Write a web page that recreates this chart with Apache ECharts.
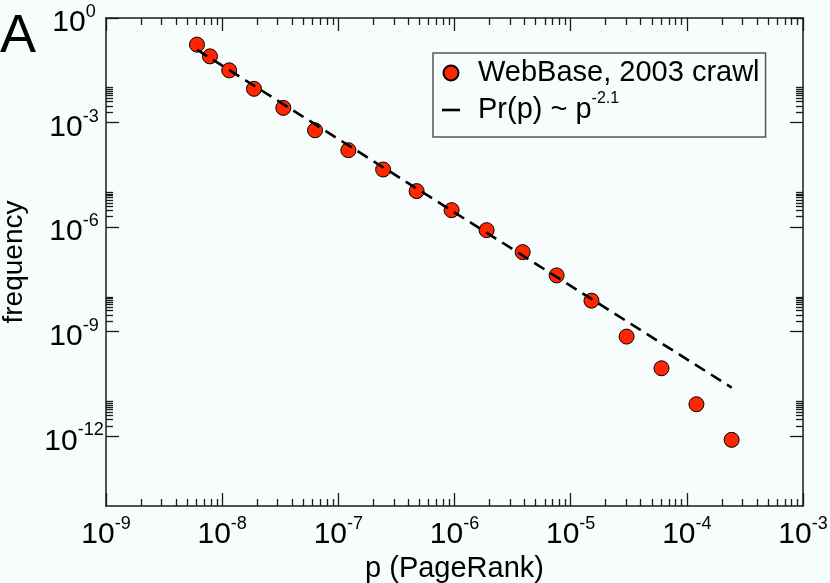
<!DOCTYPE html>
<html>
<head>
<meta charset="utf-8">
<title>PageRank distribution</title>
<script src="https://cdn.jsdelivr.net/npm/echarts@6/dist/echarts.min.js"></script>
<style>
  html, body { margin: 0; padding: 0; background: #f7fcfd; }
  #chart { width: 830px; height: 583px; }
</style>
</head>
<body>
<div id="chart"></div>
<script>
// data (log-binned PageRank histogram)
var pageRank = [
  6.07e-9, 7.85e-9, 1.15e-8, 1.88e-8, 3.36e-8, 6.3e-8,
  1.22e-7, 2.43e-7, 4.72e-7, 9.44e-7, 1.89e-6, 3.86e-6,
  7.57e-6, 1.51e-5, 3.03e-5, 6.05e-5, 1.21e-4, 2.43e-4
];
var frequency = [
  0.172, 0.0794, 0.0315, 9.3e-3, 2.64e-3, 6.0e-4,
  1.61e-4, 4.5e-5, 1.08e-5, 3.07e-6, 8.2e-7, 1.92e-7,
  4.13e-8, 7.78e-9, 7.24e-10, 8.94e-11, 8.3e-12, 7.9e-13
];
// ends of the dashed power-law guide
var fitP = [6.07e-9, 2.43e-4];
var fitFreq = [0.1235, 2.5e-11];

var xTicks = [1e-9, 1e-8, 1e-7, 1e-6, 1e-5, 1e-4, 1e-3];
var yTicks = [1, 1e-3, 1e-6, 1e-9, 1e-12];
var xMinorDecades = [1e-9, 1e-8, 1e-7, 1e-6, 1e-5, 1e-4];
var yMinorDecades = [1e-3, 1e-6, 1e-9, 1e-12];

var dataName = 'WebBase, 2003 crawl';
var fitName = 'Pr(p) ~ p^-2.1';

var font = 'Liberation Sans';
var axisColor = '#1a1a1a';

function minorTicks(decades, steps) {
  var out = [];
  decades.forEach(function (d) {
    steps.forEach(function (m) { out.push(m * d); });
  });
  return out;
}
var xMinor = minorTicks(xMinorDecades, [2, 3, 4, 5, 6, 7, 8, 9]);
var yMinor = minorTicks(yMinorDecades, [2, 3, 4, 5, 6, 7, 8, 9, 10]);

function powLabel(v) {
  var e = Math.round(Math.log10(v));
  return '{b|10}{s|' + e + '}';
}

var tickRich = {
  b: { fontSize: 30, lineHeight: 40, fontFamily: font, color: '#000' },
  s: { fontSize: 18, lineHeight: 18, fontFamily: font, color: '#000', verticalAlign: 'top' }
};

function frameAxis(pos, min, max, ticks, len, withLine) {
  return {
    type: 'log',
    logBase: 10,
    min: min,
    max: max,
    position: pos,
    axisLine: { show: withLine, onZero: false, lineStyle: { color: axisColor, width: 1.5 } },
    axisTick: { show: true, inside: true, length: len, customValues: ticks,
                lineStyle: { color: axisColor, width: 1.3 } },
    axisLabel: { show: false },
    splitLine: { show: false },
    axisPointer: { show: false },
    silent: true
  };
}

var xMain = frameAxis('bottom', 1e-9, 1e-3, xTicks, 13, true);
xMain.axisLabel = {
  show: true, customValues: xTicks, margin: 9,
  fontSize: 30, fontFamily: font, color: '#000',
  formatter: powLabel, rich: tickRich
};
xMain.name = 'p (PageRank)';
xMain.nameLocation = 'middle';
xMain.nameGap = 43;
xMain.nameTextStyle = { fontSize: 29, fontFamily: font, color: '#000' };

var yMain = frameAxis('left', 1e-14, 1, yTicks, 13, true);
yMain.axisLabel = {
  show: true, customValues: yTicks, margin: 32, align: 'center',
  fontSize: 30, fontFamily: font, color: '#000',
  padding: [10, 0, 0, 0],
  formatter: powLabel, rich: tickRich
};
yMain.name = 'frequency';
yMain.nameLocation = 'middle';
yMain.nameGap = 78;
yMain.nameTextStyle = { fontSize: 28, fontFamily: font, color: '#000' };

var option = {
  backgroundColor: '#f7fcfd',
  animation: false,
  title: {
    text: 'A',
    left: 0,
    top: 10,
    padding: 0,
    textStyle: { fontSize: 54, fontWeight: 'normal', fontFamily: font, color: '#000' }
  },
  grid: {
    left: 106, top: 18, width: 697, height: 488,
    containLabel: false, outerBoundsMode: 'none'
  },
  legend: {
    orient: 'vertical',
    left: 433,
    top: 53,
    padding: [5, 6, 8, 9],
    itemGap: 3,
    itemWidth: 18,
    itemHeight: 15,
    borderColor: '#555',
    borderWidth: 1.5,
    borderRadius: 0,
    data: [
      { name: dataName, icon: 'circle' },
      { name: fitName, icon: 'path://M0,0 L18,0 L18,2.6 L0,2.6 Z',
        itemStyle: { color: '#000', borderWidth: 0 } }
    ],
    formatter: function (name) {
      return name === fitName ? '{a|Pr(p) ~ p}{s|-2.1}' : name;
    },
    textStyle: {
      fontSize: 29, lineHeight: 30, fontFamily: font, color: '#000',
      padding: [0, 0, 0, 13],
      rich: {
        a: { fontSize: 29, lineHeight: 38, fontFamily: font, color: '#000' },
        s: { fontSize: 16, lineHeight: 16, fontFamily: font, color: '#000', verticalAlign: 'top' }
      }
    }
  },
  xAxis: [
    xMain,
    frameAxis('top', 1e-9, 1e-3, xTicks, 13, true),
    frameAxis('bottom', 1e-9, 1e-3, xMinor, 7, false),
    frameAxis('top', 1e-9, 1e-3, xMinor, 7, false)
  ],
  yAxis: [
    yMain,
    frameAxis('right', 1e-14, 1, yTicks, 13, true),
    frameAxis('left', 1e-14, 1, yMinor, 7, false),
    frameAxis('right', 1e-14, 1, yMinor, 7, false)
  ],
  series: [
    {
      name: dataName,
      type: 'scatter',
      xAxisIndex: 0,
      yAxisIndex: 0,
      symbolSize: 15,
      z: 2,
      itemStyle: { color: '#ff2600', borderColor: '#000', borderWidth: 1, opacity: 1 },
      data: pageRank.map(function (p, i) { return [p, frequency[i]]; })
    },
    {
      name: fitName,
      type: 'line',
      xAxisIndex: 0,
      yAxisIndex: 0,
      symbol: 'none',
      z: 3,
      color: '#000',
      lineStyle: { color: '#000', width: 2.6, type: [12, 7] },
      data: fitP.map(function (p, i) { return [p, fitFreq[i]]; })
    }
  ]
};

echarts.init(document.getElementById('chart')).setOption(option);
</script>
</body>
</html>
